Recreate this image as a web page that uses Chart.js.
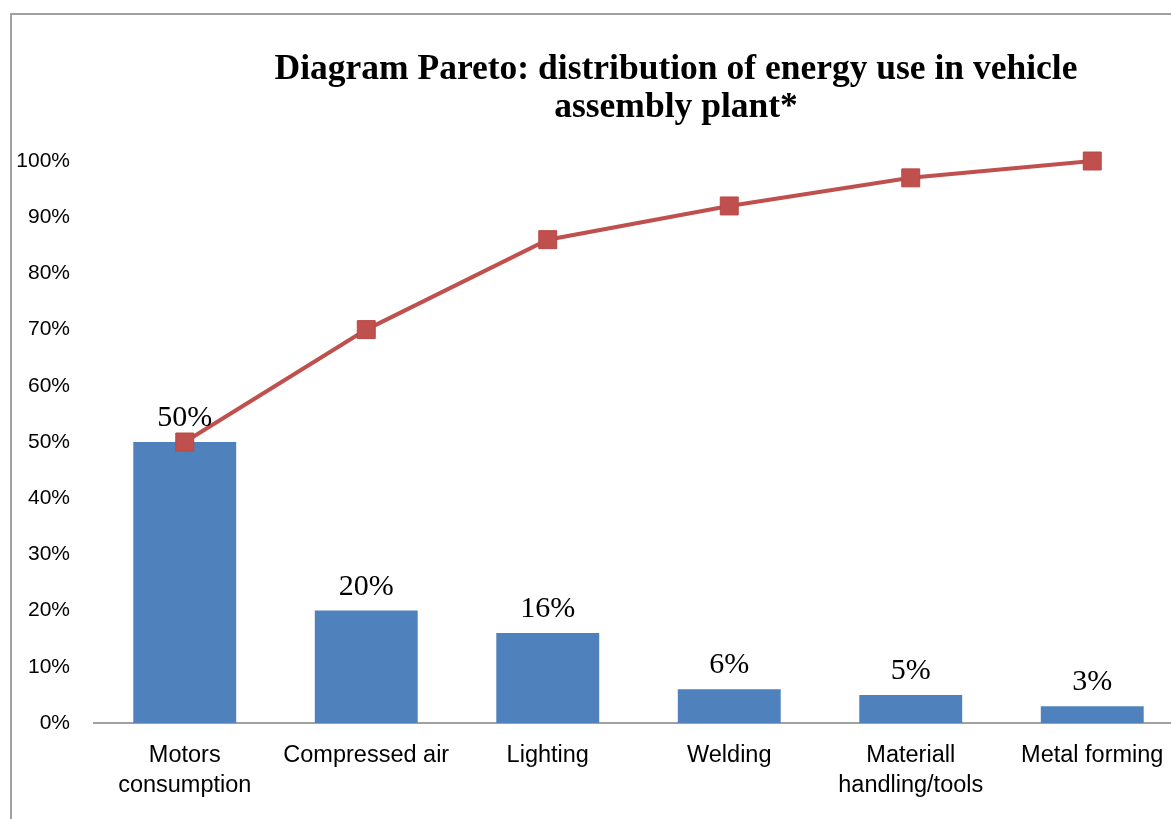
<!DOCTYPE html>
<html>
<head>
<meta charset="utf-8">
<script src="https://cdn.jsdelivr.net/npm/chart.js@4/dist/chart.umd.min.js"></script>
<style>
  html, body { margin: 0; padding: 0; background: #fff; overflow: hidden; }
  #wrap { position: relative; width: 1171px; height: 819px; overflow: hidden; }
  #frame { position: absolute; left: 10px; top: 13px; width: 1300px; height: 900px;
           border-left: 2px solid #a0a0a0; border-top: 2px solid #a0a0a0; }
  canvas { position: absolute; left: 0; top: 0; }
</style>
</head>
<body>
<div id="wrap">
  <div id="frame"></div>
  <canvas id="pareto" width="1200" height="819"></canvas>
</div>
<script>
// ==================================== data
const categories = [
    ["Motors", "consumption"],
    "Compressed air",
    "Lighting",
    "Welding",
    ["Materiall", "handling/tools"],
    "Metal forming"
];
const shares = [50, 20, 16, 6, 5, 3];
const cumulative = [50, 70, 86, 92, 97, 100];
const yTicks = [0, 10, 20, 30, 40, 50, 60, 70, 80, 90, 100];
const titleLines = ["Diagram Pareto: distribution of energy use in vehicle", "assembly plant*"];

const BAR_BLUE = "#4F81BD";
const LINE_RED = "#C0504D";

// ==================================== plugins
const titlePlugin = {
    id: "serifTitle",
    afterDraw(chart) {
        const ctx = chart.ctx;
        ctx.save();
        ctx.fillStyle = "#000";
        ctx.font = "bold 35.5px 'Liberation Serif', 'Times New Roman', serif";
        ctx.textAlign = "center";
        ctx.textBaseline = "middle";
        titleLines.forEach((line, i) => {
            ctx.fillText(line, 676, 70 + i * 38);
        });
        ctx.restore();
    }
};

const barLabels = {
    id: "barLabels",
    afterDatasetsDraw(chart) {
        const ctx = chart.ctx;
        const meta = chart.getDatasetMeta(1);
        ctx.save();
        ctx.fillStyle = "#000";
        ctx.font = "30px 'Liberation Serif', 'Times New Roman', serif";
        ctx.textAlign = "center";
        ctx.textBaseline = "alphabetic";
        meta.data.forEach((bar, i) => {
            ctx.fillText(shares[i] + "%", bar.x, bar.y - 16);
        });
        ctx.restore();
    }
};

// ==================================== chart
const ctx = document.querySelector("#pareto").getContext("2d");

new Chart(ctx, {
    type: "bar",
    data: {
        labels: categories,
        datasets: [
            {
                type: "line",
                label: "Cumulative",
                data: cumulative,
                borderColor: LINE_RED,
                backgroundColor: LINE_RED,
                borderWidth: 4,
                pointStyle: "rect",
                pointRadius: 12.7,
                pointBorderWidth: 1,
                pointBorderColor: "#b94744",
                pointBackgroundColor: LINE_RED,
                tension: 0,
                clip: false,
                order: 0
            },
            {
                type: "bar",
                label: "Share",
                data: shares,
                backgroundColor: BAR_BLUE,
                borderWidth: 0,
                categoryPercentage: 1,
                barPercentage: 0.567,
                order: 1
            }
        ]
    },
    options: {
        responsive: false,
        animation: false,
        devicePixelRatio: 1,
        layout: { padding: { top: 161, right: 17, bottom: 0, left: 0 } },
        plugins: {
            legend: { display: false },
            tooltip: { enabled: false },
            title: { display: false }
        },
        scales: {
            x: {
                grid: { display: false, drawTicks: false },
                border: { display: true, color: "#a0a0a0", width: 2 },
                ticks: {
                    color: "#000",
                    padding: 18,
                    maxRotation: 0,
                    autoSkip: false,
                    font: { family: "'Liberation Sans', Arial, sans-serif", size: 23.5, lineHeight: 1.25 }
                },
                afterFit(scale) { scale.height = 96; }
            },
            y: {
                min: 0,
                max: 100,
                grid: { display: false, drawTicks: false },
                border: { display: false },
                afterBuildTicks(scale) { scale.ticks = yTicks.map(v => ({ value: v })); },
                ticks: {
                    color: "#000",
                    padding: 24,
                    callback: v => v + "%",
                    font: { family: "'Liberation Sans', Arial, sans-serif", size: 21 }
                },
                afterFit(scale) { scale.width = 94; }
            }
        }
    },
    plugins: [barLabels, titlePlugin]
});
</script>
</body>
</html>
